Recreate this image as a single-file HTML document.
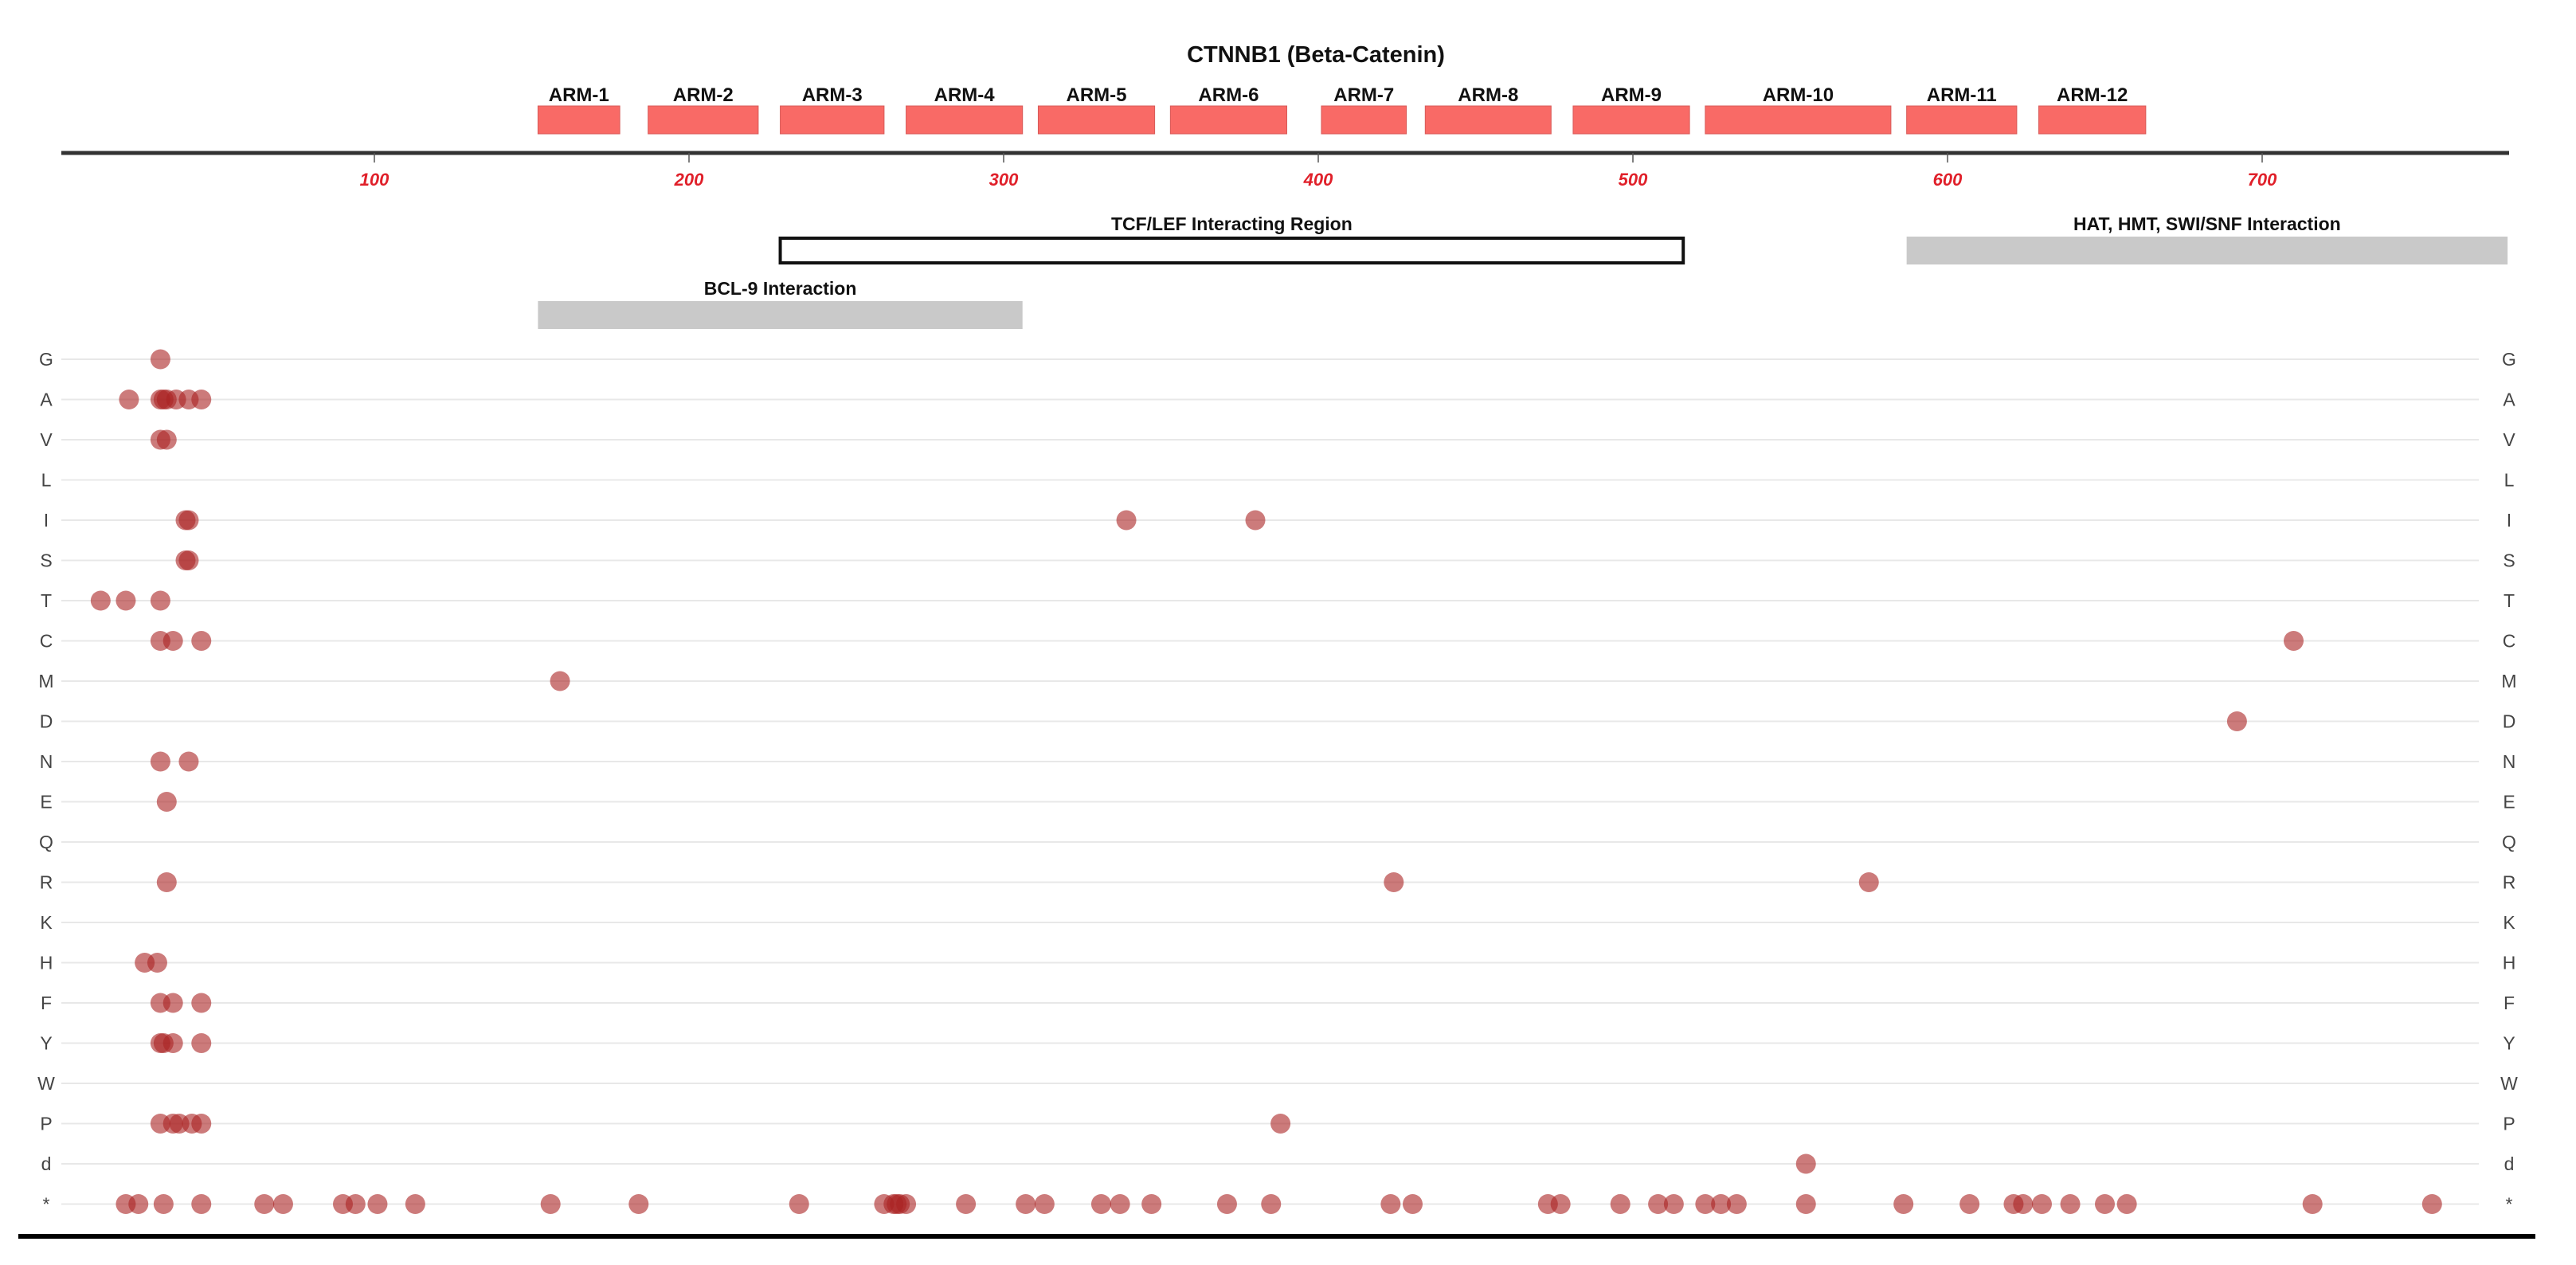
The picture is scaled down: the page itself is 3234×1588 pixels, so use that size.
<!DOCTYPE html>
<html><head><meta charset="utf-8"><style>
html,body{margin:0;padding:0;background:#fff;}
svg{display:block;font-family:"Liberation Sans",sans-serif;}
</style></head><body>
<svg id="chart" width="3234" height="1588" viewBox="0 0 3234 1588" xmlns="http://www.w3.org/2000/svg">
<text x="1652" y="78" text-anchor="middle" font-size="29" font-weight="bold" fill="#111">CTNNB1 (Beta-Catenin)</text>
<g id="domains"></g>
<line x1="77" y1="192" x2="3150" y2="192" stroke="#333" stroke-width="5"/>
<g id="ticks"></g>
<g id="rows"></g>
<g id="dots"></g>
<rect x="23" y="1549" width="3160" height="6" fill="#000"/>
</svg>
<script>
const armNames = ["ARM-1","ARM-2","ARM-3","ARM-4","ARM-5","ARM-6","ARM-7","ARM-8","ARM-9","ARM-10","ARM-11","ARM-12"];
const armStart = [152,187,229,269,311,353,401,434,481,523,587,629];
const armEnd   = [178,222,262,306,348,390,428,474,518,582,622,663];
const regionNames = ["TCF/LEF Interacting Region","HAT, HMT, SWI/SNF Interaction","BCL-9 Interaction"];
const regionStart = [229,587,152];
const regionEnd = [516,778,306];
const tickValues = [100,200,300,400,500,600,700];
const rowLabels = ["G","A","V","L","I","S","T","C","M","D","N","E","Q","R","K","H","F","Y","W","P","d","*"];
const mutRows = ["G","A","A","A","A","A","A","A","V","V","I","I","I","I","S","S","T","T","T","C","C","C","C","M","D","N","N","E","R","R","R","H","H","F","F","F","Y","Y","Y","Y","P","P","P","P","P","P","d",
"*","*","*","*","*","*","*","*","*","*","*","*","*","*","*","*","*","*","*","*","*","*","*","*","*","*","*","*","*","*","*","*","*","*","*","*","*","*","*","*","*","*","*","*","*","*","*","*","*","*","*"];
const mutPos = [32,22,32,33,34,37,41,45,32,34,40,41,339,380,40,41,13,21,32,32,36,45,710,159,692,32,41,34,34,424,575,27,31,32,36,45,32,33,36,45,32,36,38,42,45,388,555,
21,25,45,65,71,90,94,101,113,156,184,235,262,265,267,269,288,307,313,331,337,347,371,385,423,430,473,477,496,508,513,523,528,533,555,586,607,621,624,630,639,650,657,716,754,266,33];
const X = v => 75 + 3.95*v;
const Y = i => 451 + 50.5*i;
const NS="http://www.w3.org/2000/svg";
function mk(tag, parent, attrs, text){const e=document.createElementNS(NS,tag);for(const k in attrs)e.setAttribute(k,attrs[k]);if(text!==undefined)e.textContent=text;parent.appendChild(e);return e;}
const dom=document.getElementById('domains');
armNames.forEach((n,i)=>{
  const r=mk('rect',dom,{x:X(armStart[i]),y:133,width:X(armEnd[i])-X(armStart[i]),height:35,fill:'#f96a66',stroke:'#d85a58','stroke-width':1});
  
  
  const t=mk('text',dom,{x:(X(armStart[i])+X(armEnd[i]))/2,y:127,'text-anchor':'middle','font-size':24,'font-weight':'bold',fill:'#111'},n);
  
  
});
const regY=[297,297,378];
regionNames.forEach((n,i)=>{
  const outline=i===0;
  const r=mk('rect',dom,{x:X(regionStart[i]),y:regY[i]+(outline?2:0),width:X(regionEnd[i])-X(regionStart[i]),height:outline?31:35,fill:outline?'#fff':'#c9c9c9',stroke:outline?'#111':'none','stroke-width':4});
  
  
  const t=mk('text',dom,{x:(X(regionStart[i])+X(regionEnd[i]))/2,y:regY[i]-8,'text-anchor':'middle','font-size':23,'font-weight':'bold',fill:'#111'},n);
  
  
});
const tk=document.getElementById('ticks');
tickValues.forEach(v=>{
  const l=mk('line',tk,{x1:X(v),y1:192,x2:X(v),y2:204,stroke:'#555','stroke-width':1.5});
  
  
  const t=mk('text',tk,{x:X(v),y:233,'text-anchor':'middle','font-size':22,'font-style':'italic','font-weight':'bold',fill:'#e0202a'},String(v));
  
  
});
const rw=document.getElementById('rows');
rowLabels.forEach((r,i)=>{
  const g=mk('line',rw,{x1:77,y1:Y(i),x2:3112,y2:Y(i),stroke:'#e8e8e8','stroke-width':2});
  
  
  const a=mk('text',rw,{x:58,y:Y(i)+8,'text-anchor':'middle','font-size':23,fill:'#444'},r);
  
  
  const b=mk('text',rw,{x:3150,y:Y(i)+8,'text-anchor':'middle','font-size':23,fill:'#444'},r);
  
  
});
const dt=document.getElementById('dots');
mutPos.forEach((p,i)=>{
  const c=mk('circle',dt,{cx:X(p),cy:Y(rowLabels.indexOf(mutRows[i])),r:12.5,fill:'rgba(170,35,35,0.6)'});
  
  
});
</script>
</body></html>
